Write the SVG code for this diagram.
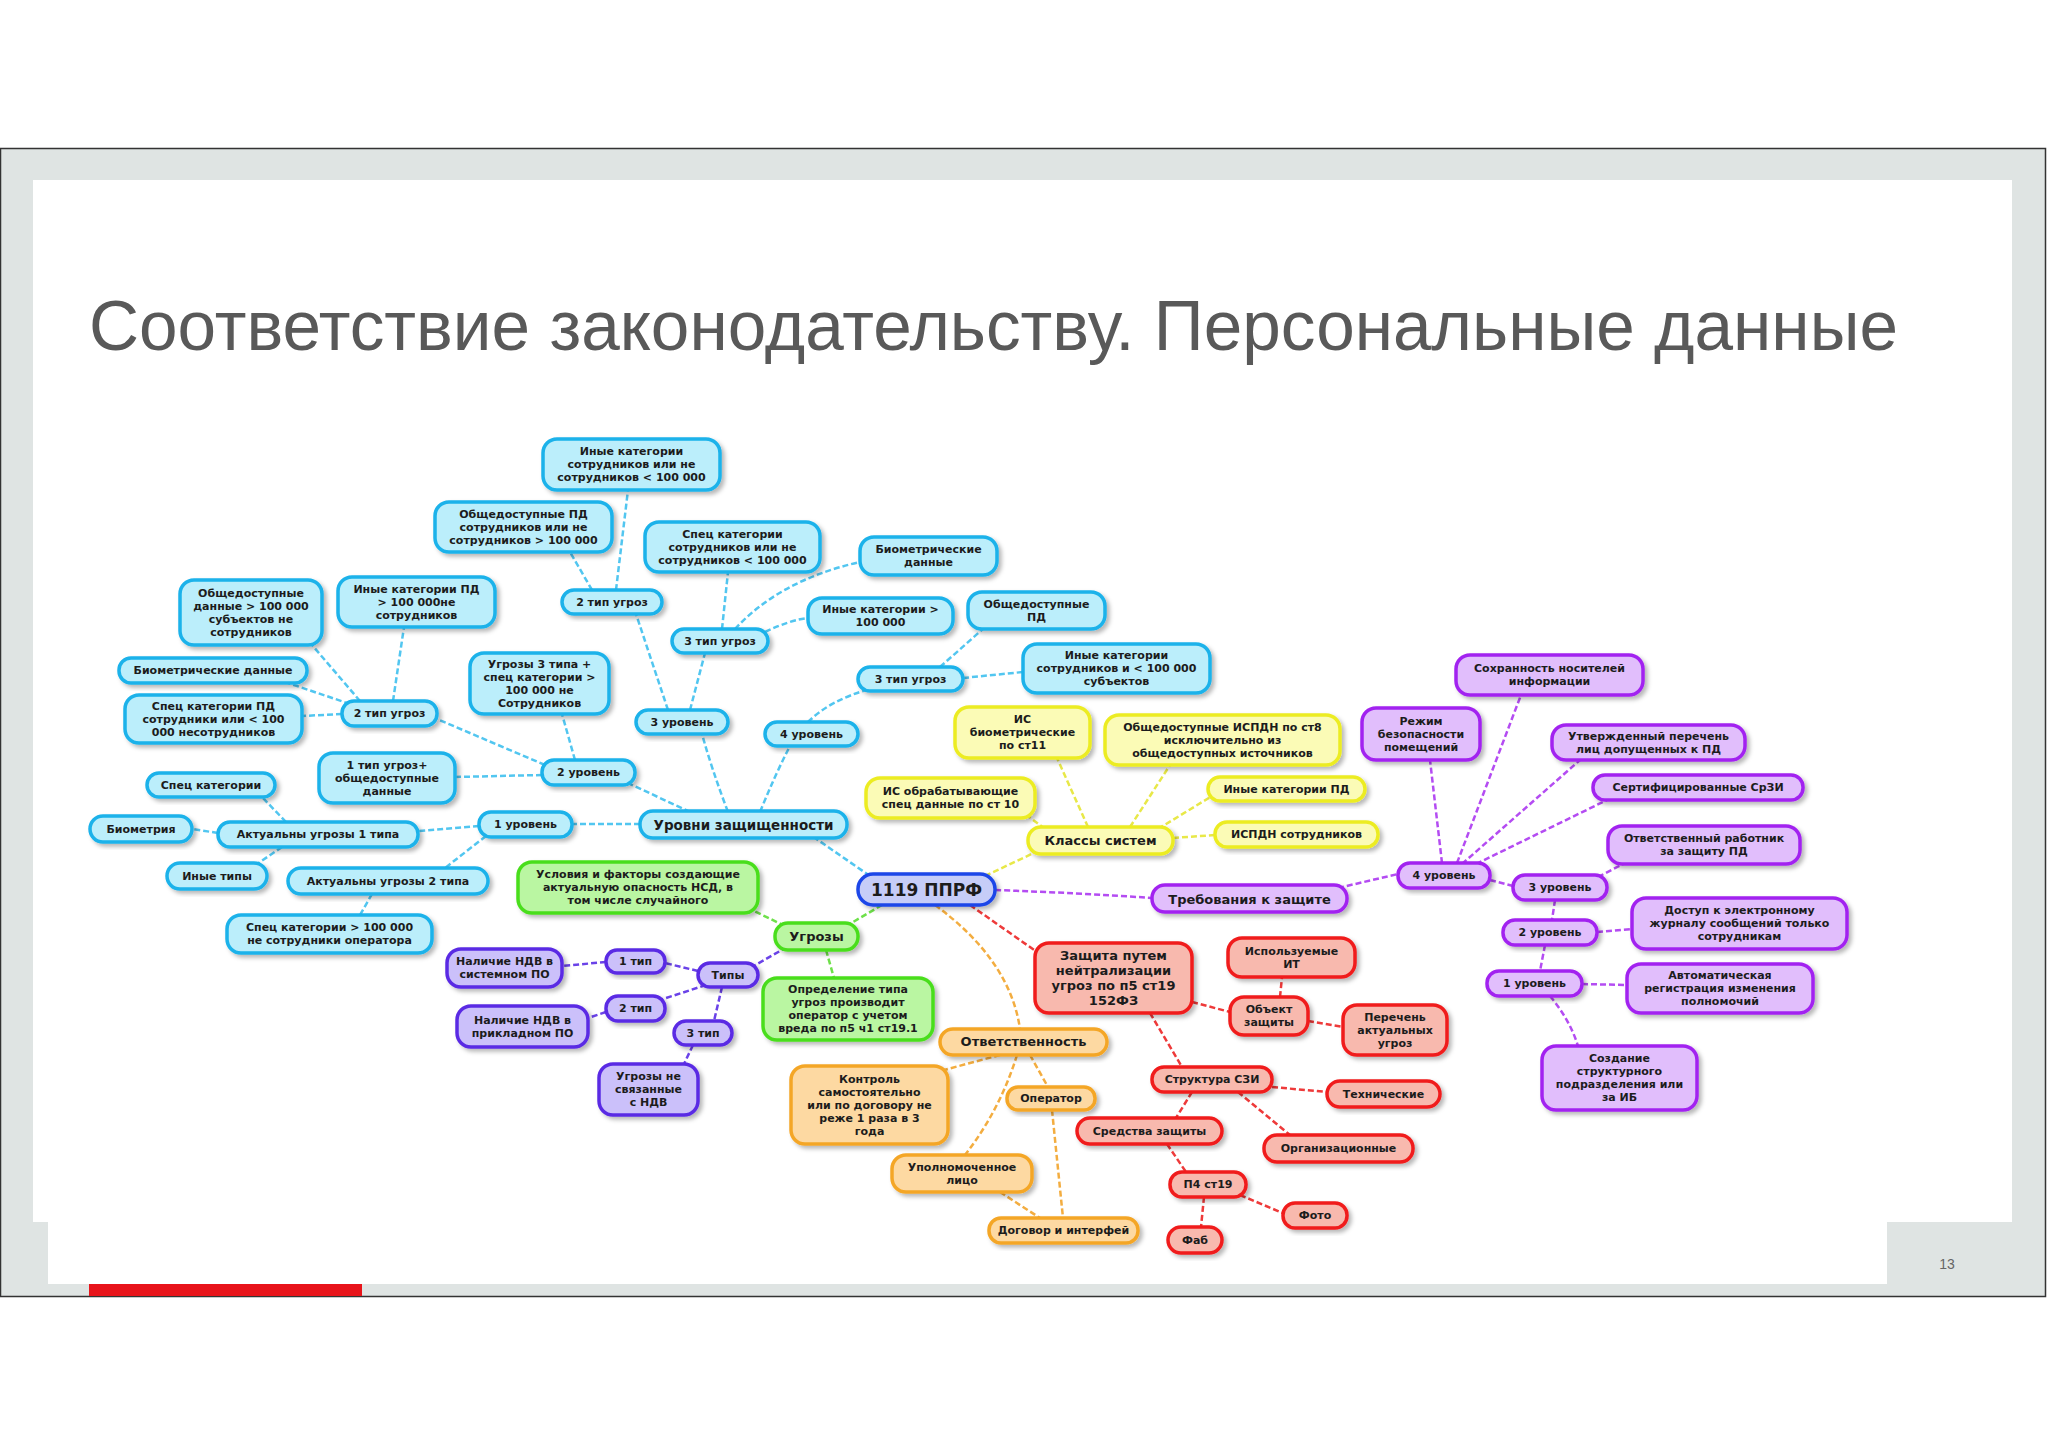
<svg xmlns="http://www.w3.org/2000/svg" width="2048" height="1448" viewBox="0 0 2048 1448">
<defs>
<filter id="sh" x="-10%" y="-10%" width="130%" height="140%"><feDropShadow dx="3" dy="3" stdDeviation="2" flood-color="#000" flood-opacity="0.28"/></filter>
<style>
.t{font-family:"DejaVu Sans","Liberation Sans",Arial,sans-serif;font-weight:bold;font-size:11px;text-anchor:middle;fill:#1c1c1c}
.n rect{stroke-width:3.5;filter:url(#sh)}
.cy rect{fill:#bbeefb;stroke:#1ab2ea}
.ce rect{fill:#c6cdf8;stroke:#1e46e8}
.gr rect{fill:#baf6a2;stroke:#4ade1e}
.vi rect{fill:#cbc0fa;stroke:#5a2ce4}
.ye rect{fill:#fbfbb6;stroke:#ecec22}
.pu rect{fill:#e1befc;stroke:#a224f0}
.re rect{fill:#f8b9ae;stroke:#f01c1c}
.or rect{fill:#fdd9a2;stroke:#f4a626}
#connectors path{fill:none;stroke-width:2.5;stroke-dasharray:6 3}
.k-cy{stroke:#52c6f0}.k-gr{stroke:#6ee04a}.k-vi{stroke:#6a42e8}.k-ye{stroke:#e8e848}.k-pu{stroke:#b44cf2}.k-re{stroke:#ee3a3a}.k-or{stroke:#f3ad40}
</style>
</defs>
<rect x="0" y="0" width="2048" height="1448" fill="#ffffff"/>
<g id="slide">
<rect x="0.5" y="148.5" width="2045" height="1148" fill="#dfe4e3" stroke="#333" stroke-width="1.5"/>
<rect x="33" y="180" width="1979" height="1042" fill="#ffffff"/>
<rect x="48" y="1220" width="1839" height="64" fill="#ffffff"/>
<rect x="89" y="1284" width="273" height="12" fill="#e8141b"/>
<text x="1947" y="1269" style="font-family:'Liberation Sans',Arial,sans-serif;font-size:14px;fill:#666;text-anchor:middle">13</text>
<text x="89" y="350" textLength="1809" lengthAdjust="spacingAndGlyphs" style="font-family:'Liberation Sans',Arial,sans-serif;font-size:70px;fill:#595959">Соответствие законодательству. Персональные данные</text>
</g>
<g id="connectors">
<path class="k-cy" d="M870,876 L815,838"/>
<path class="k-cy" d="M640,824 L572,824"/>
<path class="k-cy" d="M690,812 L628,783"/>
<path class="k-cy" d="M728,812 Q712,770 702,734"/>
<path class="k-cy" d="M760,812 Q775,775 790,746"/>
<path class="k-cy" d="M668,710 L636,614"/>
<path class="k-cy" d="M690,710 L705,653"/>
<path class="k-cy" d="M616,590 L628,490"/>
<path class="k-cy" d="M592,590 L570,552"/>
<path class="k-cy" d="M722,629 L728,572"/>
<path class="k-cy" d="M735,629 Q780,580 860,562"/>
<path class="k-cy" d="M765,632 Q790,620 808,618"/>
<path class="k-cy" d="M808,722 Q830,700 870,689"/>
<path class="k-cy" d="M940,667 L984,628"/>
<path class="k-cy" d="M963,678 L1023,672"/>
<path class="k-cy" d="M545,765 L437,719"/>
<path class="k-cy" d="M575,760 L562,714"/>
<path class="k-cy" d="M542,775 L455,777"/>
<path class="k-cy" d="M360,701 L312,645"/>
<path class="k-cy" d="M393,701 L404,627"/>
<path class="k-cy" d="M350,704 L288,683"/>
<path class="k-cy" d="M342,714 L302,716"/>
<path class="k-cy" d="M479,826 L418,831"/>
<path class="k-cy" d="M486,836 L445,868"/>
<path class="k-cy" d="M286,822 L262,797"/>
<path class="k-cy" d="M218,833 L192,829"/>
<path class="k-cy" d="M282,847 L257,864"/>
<path class="k-cy" d="M372,894 L360,915"/>
<path class="k-gr" d="M882,905 L848,925"/>
<path class="k-gr" d="M785,926 L752,910"/>
<path class="k-gr" d="M826,950 L834,978"/>
<path class="k-vi" d="M787,947 L752,967"/>
<path class="k-vi" d="M698,971 L665,963"/>
<path class="k-vi" d="M706,985 L660,1000"/>
<path class="k-vi" d="M722,987 L714,1021"/>
<path class="k-vi" d="M606,962 L562,966"/>
<path class="k-vi" d="M606,1012 L588,1018"/>
<path class="k-vi" d="M693,1045 L684,1064"/>
<path class="k-ye" d="M985,876 L1040,850"/>
<path class="k-ye" d="M1088,827 L1057,758"/>
<path class="k-ye" d="M1130,827 L1170,765"/>
<path class="k-ye" d="M1045,829 L1028,816"/>
<path class="k-ye" d="M1158,829 L1212,796"/>
<path class="k-ye" d="M1173,838 L1215,835"/>
<path class="k-pu" d="M995,890 Q1080,893 1152,898"/>
<path class="k-pu" d="M1338,888 L1398,874"/>
<path class="k-pu" d="M1457,863 L1521,695"/>
<path class="k-pu" d="M1442,863 L1430,760"/>
<path class="k-pu" d="M1462,864 L1580,760"/>
<path class="k-pu" d="M1476,864 L1607,800"/>
<path class="k-pu" d="M1490,880 L1513,886"/>
<path class="k-pu" d="M1598,877 L1625,863"/>
<path class="k-pu" d="M1555,900 L1552,920"/>
<path class="k-pu" d="M1597,932 L1632,929"/>
<path class="k-pu" d="M1545,945 L1540,971"/>
<path class="k-pu" d="M1582,984 L1627,985"/>
<path class="k-pu" d="M1550,996 Q1570,1020 1578,1046"/>
<path class="k-re" d="M970,905 L1037,952"/>
<path class="k-re" d="M1192,1002 L1230,1012"/>
<path class="k-re" d="M1150,1013 L1182,1067"/>
<path class="k-re" d="M1280,997 L1282,977"/>
<path class="k-re" d="M1308,1021 L1343,1027"/>
<path class="k-re" d="M1272,1087 L1327,1092"/>
<path class="k-re" d="M1192,1092 L1176,1118"/>
<path class="k-re" d="M1238,1092 L1290,1135"/>
<path class="k-re" d="M1167,1144 L1186,1172"/>
<path class="k-re" d="M1240,1195 L1285,1214"/>
<path class="k-re" d="M1204,1197 L1201,1227"/>
<path class="k-or" d="M935,905 Q1010,960 1020,1029"/>
<path class="k-or" d="M1000,1055 L944,1070"/>
<path class="k-or" d="M1030,1055 L1048,1087"/>
<path class="k-or" d="M1017,1055 Q1000,1110 965,1155"/>
<path class="k-or" d="M1052,1110 L1063,1218"/>
<path class="k-or" d="M1000,1192 L1040,1218"/>
</g>
<g id="c1" class="n cy"><rect x="543" y="439" width="177" height="51" rx="14"/><text class="t" x="631.5" y="455.2">Иные категории</text><text class="t" x="631.5" y="468.2">сотрудников или не</text><text class="t" x="631.5" y="481.2">сотрудников &lt; 100 000</text></g>
<g id="c2" class="n cy"><rect x="435" y="502" width="177" height="50" rx="14"/><text class="t" x="523.5" y="517.7">Общедоступные ПД</text><text class="t" x="523.5" y="530.7">сотрудников или не</text><text class="t" x="523.5" y="543.7">сотрудников &gt; 100 000</text></g>
<g id="c3" class="n cy"><rect x="645" y="522" width="175" height="50" rx="14"/><text class="t" x="732.5" y="537.7">Спец категории</text><text class="t" x="732.5" y="550.7">сотрудников или не</text><text class="t" x="732.5" y="563.7">сотрудников &lt; 100 000</text></g>
<g id="c4" class="n cy"><rect x="860" y="537" width="137" height="38" rx="14"/><text class="t" x="928.5" y="553.2">Биометрические</text><text class="t" x="928.5" y="566.2">данные</text></g>
<g id="c5" class="n cy"><rect x="968" y="592" width="137" height="37" rx="14"/><text class="t" x="1036.5" y="607.7">Общедоступные</text><text class="t" x="1036.5" y="620.7">ПД</text></g>
<g id="c6" class="n cy"><rect x="808" y="598" width="145" height="36" rx="14"/><text class="t" x="880.5" y="613.2">Иные категории &gt;</text><text class="t" x="880.5" y="626.2">100 000</text></g>
<g id="c7" class="n cy"><rect x="672" y="629" width="96" height="24" rx="12"/><text class="t" x="720" y="644.7">3 тип угроз</text></g>
<g id="c8" class="n cy"><rect x="562" y="590" width="100" height="24" rx="12"/><text class="t" x="612" y="605.7">2 тип угроз</text></g>
<g id="c9" class="n cy"><rect x="858" y="667" width="105" height="24" rx="12"/><text class="t" x="910.5" y="682.7">3 тип  угроз</text></g>
<g id="c10" class="n cy"><rect x="1023" y="644" width="187" height="49" rx="14"/><text class="t" x="1116.5" y="659.2">Иные категории</text><text class="t" x="1116.5" y="672.2">сотрудников  и &lt; 100 000</text><text class="t" x="1116.5" y="685.2">субъектов</text></g>
<g id="c11" class="n cy"><rect x="636" y="710" width="92" height="24" rx="12"/><text class="t" x="682" y="725.7">3 уровень</text></g>
<g id="c12" class="n cy"><rect x="765" y="722" width="93" height="24" rx="12"/><text class="t" x="811.5" y="737.7">4 уровень</text></g>
<g id="c13" class="n cy"><rect x="542" y="760" width="93" height="25" rx="12"/><text class="t" x="588.5" y="776.2">2 уровень</text></g>
<g id="c14" class="n cy"><rect x="640" y="811" width="207" height="27" rx="13"/><text class="t" x="743.5" y="829.5" style="font-size:13.5px">Уровни защищенности</text></g>
<g id="c15" class="n cy"><rect x="479" y="812" width="93" height="25" rx="12"/><text class="t" x="525.5" y="828.2">1 уровень</text></g>
<g id="c16" class="n cy"><rect x="342" y="701" width="95" height="25" rx="12"/><text class="t" x="389.5" y="717.2">2 тип угроз</text></g>
<g id="c17" class="n cy"><rect x="180" y="580" width="142" height="65" rx="14"/><text class="t" x="251" y="596.7">Общедоступные</text><text class="t" x="251" y="609.7">данные &gt; 100 000</text><text class="t" x="251" y="622.7">субъектов не</text><text class="t" x="251" y="635.7">сотрудников</text></g>
<g id="c18" class="n cy"><rect x="338" y="577" width="157" height="50" rx="14"/><text class="t" x="416.5" y="592.7">Иные категории ПД</text><text class="t" x="416.5" y="605.7">&gt; 100 000не</text><text class="t" x="416.5" y="618.7">сотрудников</text></g>
<g id="c19" class="n cy"><rect x="119" y="658" width="188" height="25" rx="12"/><text class="t" x="213" y="674.2">Биометрические данные</text></g>
<g id="c20" class="n cy"><rect x="125" y="695" width="177" height="48" rx="14"/><text class="t" x="213.5" y="709.7">Спец категории ПД</text><text class="t" x="213.5" y="722.7">сотрудники или &lt; 100</text><text class="t" x="213.5" y="735.7">000 несотрудников</text></g>
<g id="c21" class="n cy"><rect x="470" y="653" width="139" height="61" rx="14"/><text class="t" x="539.5" y="667.7">Угрозы 3 типа +</text><text class="t" x="539.5" y="680.7">спец категории &gt;</text><text class="t" x="539.5" y="693.7">100 000 не</text><text class="t" x="539.5" y="706.7">Сотрудников</text></g>
<g id="c22" class="n cy"><rect x="319" y="753" width="136" height="50" rx="14"/><text class="t" x="387" y="768.7">1 тип угроз+</text><text class="t" x="387" y="781.7">общедоступные</text><text class="t" x="387" y="794.7">данные</text></g>
<g id="c23" class="n cy"><rect x="147" y="773" width="128" height="24" rx="12"/><text class="t" x="211" y="788.7">Спец категории</text></g>
<g id="c24" class="n cy"><rect x="90" y="816" width="102" height="26" rx="13"/><text class="t" x="141" y="832.7">Биометрия</text></g>
<g id="c25" class="n cy"><rect x="218" y="822" width="200" height="25" rx="12"/><text class="t" x="318" y="838.2">Актуальны угрозы 1 типа</text></g>
<g id="c26" class="n cy"><rect x="167" y="863" width="100" height="26" rx="13"/><text class="t" x="217" y="879.7">Иные типы</text></g>
<g id="c27" class="n cy"><rect x="288" y="868" width="200" height="26" rx="13"/><text class="t" x="388" y="884.7">Актуальны угрозы 2 типа</text></g>
<g id="c28" class="n cy"><rect x="227" y="915" width="205" height="38" rx="14"/><text class="t" x="329.5" y="931.2">Спец категории &gt; 100 000</text><text class="t" x="329.5" y="944.2">не сотрудники оператора</text></g>
<g id="center" class="n ce"><rect x="858" y="874" width="137" height="31" rx="15"/><text class="t" x="926.5" y="896" style="font-size:17px">1119 ППРФ</text></g>
<g id="g1" class="n gr"><rect x="518" y="862" width="240" height="51" rx="14"/><text class="t" x="638" y="878.2">Условия и факторы создающие</text><text class="t" x="638" y="891.2">актуальную опасность НСД, в</text><text class="t" x="638" y="904.2">том числе случайного</text></g>
<g id="g2" class="n gr"><rect x="775" y="923" width="83" height="27" rx="13"/><text class="t" x="816.5" y="941" style="font-size:13px">Угрозы</text></g>
<g id="g3" class="n gr"><rect x="763" y="978" width="170" height="62" rx="14"/><text class="t" x="848" y="993.2">Определение типа</text><text class="t" x="848" y="1006.2">угроз производит</text><text class="t" x="848" y="1019.2">оператор с учетом</text><text class="t" x="848" y="1032.2">вреда по п5 ч1 ст19.1</text></g>
<g id="v1" class="n vi"><rect x="698" y="963" width="60" height="24" rx="12"/><text class="t" x="728" y="978.7">Типы</text></g>
<g id="v2" class="n vi"><rect x="606" y="950" width="59" height="23" rx="11"/><text class="t" x="635.5" y="965.2">1 тип</text></g>
<g id="v3" class="n vi"><rect x="447" y="949" width="115" height="38" rx="14"/><text class="t" x="504.5" y="965.2">Наличие НДВ в</text><text class="t" x="504.5" y="978.2">системном ПО</text></g>
<g id="v4" class="n vi"><rect x="606" y="996" width="59" height="25" rx="12"/><text class="t" x="635.5" y="1012.2">2 тип</text></g>
<g id="v5" class="n vi"><rect x="457" y="1006" width="131" height="41" rx="14"/><text class="t" x="522.5" y="1023.7">Наличие НДВ в</text><text class="t" x="522.5" y="1036.7">прикладном ПО</text></g>
<g id="v6" class="n vi"><rect x="674" y="1021" width="58" height="24" rx="12"/><text class="t" x="703" y="1036.7">3 тип</text></g>
<g id="v7" class="n vi"><rect x="599" y="1064" width="99" height="51" rx="14"/><text class="t" x="648.5" y="1080.2">Угрозы не</text><text class="t" x="648.5" y="1093.2">связанные</text><text class="t" x="648.5" y="1106.2">с НДВ</text></g>
<g id="y1" class="n ye"><rect x="955" y="707" width="135" height="51" rx="14"/><text class="t" x="1022.5" y="723.2">ИС</text><text class="t" x="1022.5" y="736.2">биометрические</text><text class="t" x="1022.5" y="749.2">по ст11</text></g>
<g id="y2" class="n ye"><rect x="1105" y="715" width="235" height="50" rx="14"/><text class="t" x="1222.5" y="730.7">Общедоступные ИСПДН по ст8</text><text class="t" x="1222.5" y="743.7">исключительно из</text><text class="t" x="1222.5" y="756.7">общедоступных источников</text></g>
<g id="y3" class="n ye"><rect x="866" y="778" width="169" height="40" rx="14"/><text class="t" x="950.5" y="795.2">ИС обрабатывающие</text><text class="t" x="950.5" y="808.2">спец данные по ст 10</text></g>
<g id="y4" class="n ye"><rect x="1028" y="827" width="145" height="27" rx="13"/><text class="t" x="1100.5" y="845" style="font-size:13px">Классы систем</text></g>
<g id="y5" class="n ye"><rect x="1208" y="777" width="157" height="24" rx="12"/><text class="t" x="1286.5" y="792.7">Иные категории ПД</text></g>
<g id="y6" class="n ye"><rect x="1215" y="822" width="163" height="25" rx="12"/><text class="t" x="1296.5" y="838.2">ИСПДН сотрудников</text></g>
<g id="p1" class="n pu"><rect x="1152" y="885" width="195" height="27" rx="13"/><text class="t" x="1249.5" y="903.5" style="font-size:13px">Требования к защите</text></g>
<g id="p2" class="n pu"><rect x="1398" y="863" width="92" height="25" rx="12"/><text class="t" x="1444" y="879.2">4 уровень</text></g>
<g id="p3" class="n pu"><rect x="1456" y="655" width="187" height="40" rx="14"/><text class="t" x="1549.5" y="672.2">Сохранность носителей</text><text class="t" x="1549.5" y="685.2">информации</text></g>
<g id="p4" class="n pu"><rect x="1362" y="708" width="118" height="52" rx="14"/><text class="t" x="1421" y="724.7">Режим</text><text class="t" x="1421" y="737.7">безопасности</text><text class="t" x="1421" y="750.7">помещений</text></g>
<g id="p5" class="n pu"><rect x="1552" y="725" width="193" height="35" rx="14"/><text class="t" x="1648.5" y="739.7">Утвержденный перечень</text><text class="t" x="1648.5" y="752.7">лиц допущенных к ПД</text></g>
<g id="p6" class="n pu"><rect x="1593" y="775" width="210" height="25" rx="12"/><text class="t" x="1698" y="791.2">Сертифицированные СрЗИ</text></g>
<g id="p7" class="n pu"><rect x="1608" y="826" width="192" height="38" rx="14"/><text class="t" x="1704" y="842.2">Ответственный работник</text><text class="t" x="1704" y="855.2">за защиту ПД</text></g>
<g id="p8" class="n pu"><rect x="1513" y="875" width="94" height="25" rx="12"/><text class="t" x="1560" y="891.2">3 уровень</text></g>
<g id="p9" class="n pu"><rect x="1503" y="920" width="94" height="25" rx="12"/><text class="t" x="1550" y="936.2">2 уровень</text></g>
<g id="p10" class="n pu"><rect x="1632" y="898" width="215" height="51" rx="14"/><text class="t" x="1739.5" y="914.2">Доступ к электронному</text><text class="t" x="1739.5" y="927.2">журналу сообщений только</text><text class="t" x="1739.5" y="940.2">сотрудникам</text></g>
<g id="p11" class="n pu"><rect x="1487" y="971" width="95" height="25" rx="12"/><text class="t" x="1534.5" y="987.2">1 уровень</text></g>
<g id="p12" class="n pu"><rect x="1627" y="964" width="186" height="49" rx="14"/><text class="t" x="1720" y="979.2">Автоматическая</text><text class="t" x="1720" y="992.2">регистрация изменения</text><text class="t" x="1720" y="1005.2">полномочий</text></g>
<g id="p13" class="n pu"><rect x="1542" y="1046" width="155" height="64" rx="14"/><text class="t" x="1619.5" y="1062.2">Создание</text><text class="t" x="1619.5" y="1075.2">структурного</text><text class="t" x="1619.5" y="1088.2">подразделения или</text><text class="t" x="1619.5" y="1101.2">за ИБ</text></g>
<g id="r1" class="n re"><rect x="1035" y="943" width="157" height="70" rx="14"/><text class="t" x="1113.5" y="960" style="font-size:13px">Защита путем</text><text class="t" x="1113.5" y="975" style="font-size:13px">нейтрализации</text><text class="t" x="1113.5" y="990" style="font-size:13px">угроз по п5 ст19</text><text class="t" x="1113.5" y="1005" style="font-size:13px">152ФЗ</text></g>
<g id="r2" class="n re"><rect x="1228" y="938" width="127" height="39" rx="14"/><text class="t" x="1291.5" y="954.7">Используемые</text><text class="t" x="1291.5" y="967.7">ИТ</text></g>
<g id="r3" class="n re"><rect x="1230" y="997" width="78" height="38" rx="14"/><text class="t" x="1269" y="1013.2">Объект</text><text class="t" x="1269" y="1026.2">защиты</text></g>
<g id="r4" class="n re"><rect x="1343" y="1005" width="104" height="50" rx="14"/><text class="t" x="1395" y="1020.7">Перечень</text><text class="t" x="1395" y="1033.7">актуальных</text><text class="t" x="1395" y="1046.7">угроз</text></g>
<g id="r5" class="n re"><rect x="1152" y="1067" width="120" height="25" rx="12"/><text class="t" x="1212" y="1083.2">Структура СЗИ</text></g>
<g id="r6" class="n re"><rect x="1327" y="1081" width="113" height="26" rx="13"/><text class="t" x="1383.5" y="1097.7">Технические</text></g>
<g id="r7" class="n re"><rect x="1077" y="1118" width="145" height="26" rx="13"/><text class="t" x="1149.5" y="1134.7">Средства защиты</text></g>
<g id="r8" class="n re"><rect x="1264" y="1135" width="149" height="27" rx="13"/><text class="t" x="1338.5" y="1152.2">Организационные</text></g>
<g id="r9" class="n re"><rect x="1170" y="1172" width="76" height="25" rx="12"/><text class="t" x="1208" y="1188.2">П4 ст19</text></g>
<g id="r10" class="n re"><rect x="1283" y="1203" width="64" height="25" rx="12"/><text class="t" x="1315" y="1219.2">Фото</text></g>
<g id="r11" class="n re"><rect x="1168" y="1227" width="54" height="26" rx="13"/><text class="t" x="1195" y="1243.7">Фаб</text></g>
<g id="o1" class="n or"><rect x="940" y="1029" width="167" height="26" rx="13"/><text class="t" x="1023.5" y="1046" style="font-size:13px">Ответственность</text></g>
<g id="o2" class="n or"><rect x="791" y="1066" width="157" height="78" rx="14"/><text class="t" x="869.5" y="1082.7">Контроль</text><text class="t" x="869.5" y="1095.7">самостоятельно</text><text class="t" x="869.5" y="1108.7">или по договору не</text><text class="t" x="869.5" y="1121.7">реже 1 раза в 3</text><text class="t" x="869.5" y="1134.7">года</text></g>
<g id="o3" class="n or"><rect x="1007" y="1087" width="88" height="23" rx="11"/><text class="t" x="1051" y="1102.2">Оператор</text></g>
<g id="o4" class="n or"><rect x="892" y="1155" width="140" height="37" rx="14"/><text class="t" x="962" y="1170.7">Уполномоченное</text><text class="t" x="962" y="1183.7">лицо</text></g>
<g id="o5" class="n or"><rect x="989" y="1218" width="149" height="25" rx="12"/><text class="t" x="1063.5" y="1234.2">Договор и интерфей</text></g>
</svg>
